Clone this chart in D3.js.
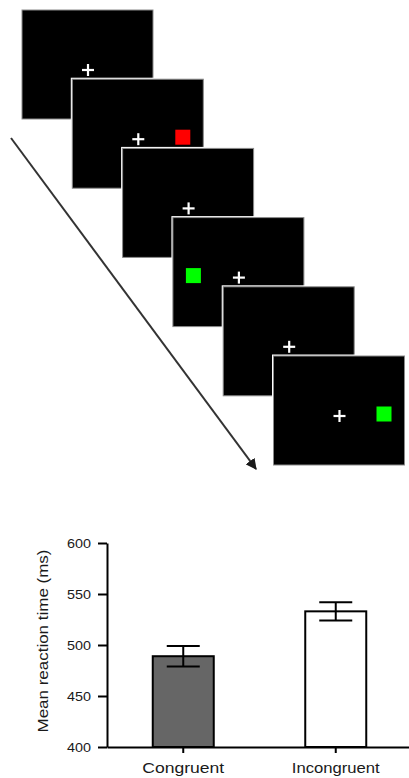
<!DOCTYPE html>
<html>
<head>
<meta charset="utf-8">
<script src="https://cdn.jsdelivr.net/npm/d3@7"></script>
<style>
html,body{margin:0;padding:0;background:#fff;}
svg{display:block;}
text{font-family:"Liberation Sans",Arial,Helvetica,sans-serif;fill:#1a1a1a;}
</style>
</head>
<body>
<svg id="chart" width="409" height="778"></svg>
<script>
// ---- data ----
const screenIndex = [0, 1, 2, 3, 4, 5];
const stimulusColor = [null, "red", null, "green", null, "green"];
const stimulusSide = [null, "right", null, "left", null, "right"];
const colorMap = {red: "#ff0000", green: "#00ff00"};

const conditions = ["Congruent", "Incongruent"];
const meanRT = [489, 533];
const semRT = [10, 9];
const yTicks = [400, 450, 500, 550, 600];
const yLabel = "Mean reaction time (ms)";

const svg = d3.select("#chart");

// ---- stimulus sequence ----
const sx = d3.scaleLinear().domain([0, 5]).range([22, 273.5]);
const sy = d3.scaleLinear().domain([0, 5]).range([10, 356]);
const SW = 131, SH = 109;
const sideX = d3.scaleOrdinal().domain(["left", "right"]).range([20.5, 110.5]);

// arrow
svg.append("defs").append("marker")
  .attr("id", "ah").attr("viewBox", "0 0 10 10")
  .attr("refX", 9).attr("refY", 5)
  .attr("markerWidth", 5.5).attr("markerHeight", 5.5)
  .attr("markerUnits", "strokeWidth")
  .attr("orient", "auto")
  .append("path").attr("d", "M0,0 L10,5 L0,10 Z").attr("fill", "#1a1a1a");

svg.append("line")
  .attr("x1", 11).attr("y1", 138).attr("x2", 256).attr("y2", 469)
  .attr("stroke", "#333").attr("stroke-width", 2)
  .attr("marker-end", "url(#ah)");

const scr = svg.append("g").selectAll("g").data(screenIndex).join("g")
  .attr("transform", d => `translate(${sx(d)},${sy(d)})`);

scr.append("rect")
  .attr("x", -1.5).attr("y", -1.5).attr("width", SW + 3).attr("height", SH + 3)
  .attr("fill", "#fff");
scr.append("rect")
  .attr("x", 0).attr("y", 0).attr("width", SW).attr("height", SH)
  .attr("fill", "#000").attr("stroke", "#8a8a8a").attr("stroke-width", 1);

// fixation cross
const cx = 66, cy = 60, arm = 6;
scr.append("line").attr("x1", cx - arm).attr("x2", cx + arm).attr("y1", cy).attr("y2", cy)
  .attr("stroke", "#fff").attr("stroke-width", 2.2);
scr.append("line").attr("x1", cx).attr("x2", cx).attr("y1", cy - arm).attr("y2", cy + arm)
  .attr("stroke", "#fff").attr("stroke-width", 2.2);

// coloured squares
const SQ = 15;
scr.filter(d => stimulusColor[d] !== null).append("rect")
  .attr("x", d => sideX(stimulusSide[d]) - SQ / 2)
  .attr("y", cy - SQ / 2 - 2)
  .attr("width", SQ).attr("height", SQ)
  .attr("fill", d => colorMap[stimulusColor[d]]);

// ---- bar chart ----
const y = d3.scaleLinear().domain([400, 600]).range([747, 543]);
const x = d3.scaleBand().domain(conditions).range([107, 412])
  .paddingInner(0.6).paddingOuter(0.3);

const g = svg.append("g");

// bars
g.selectAll("rect.bar").data(conditions).join("rect")
  .attr("class", "bar")
  .attr("x", d => x(d))
  .attr("y", (d, i) => y(meanRT[i]))
  .attr("width", x.bandwidth())
  .attr("height", (d, i) => y(400) - y(meanRT[i]))
  .attr("fill", (d, i) => i === 0 ? "#666666" : "#ffffff")
  .attr("stroke", "#000").attr("stroke-width", 2);

// error bars
const capW = 33;
const eb = g.selectAll("g.eb").data(conditions).join("g").attr("class", "eb");
eb.append("line")
  .attr("x1", d => x(d) + x.bandwidth() / 2).attr("x2", d => x(d) + x.bandwidth() / 2)
  .attr("y1", (d, i) => y(meanRT[i] + semRT[i])).attr("y2", (d, i) => y(meanRT[i] - semRT[i]))
  .attr("stroke", "#000").attr("stroke-width", 2);
eb.append("line")
  .attr("x1", d => x(d) + x.bandwidth() / 2 - capW / 2).attr("x2", d => x(d) + x.bandwidth() / 2 + capW / 2)
  .attr("y1", (d, i) => y(meanRT[i] + semRT[i])).attr("y2", (d, i) => y(meanRT[i] + semRT[i]))
  .attr("stroke", "#000").attr("stroke-width", 2);
eb.append("line")
  .attr("x1", d => x(d) + x.bandwidth() / 2 - capW / 2).attr("x2", d => x(d) + x.bandwidth() / 2 + capW / 2)
  .attr("y1", (d, i) => y(meanRT[i] - semRT[i])).attr("y2", (d, i) => y(meanRT[i] - semRT[i]))
  .attr("stroke", "#000").attr("stroke-width", 2);

// y axis
const ya = g.append("g").attr("transform", "translate(107,0)")
  .call(d3.axisLeft(y).tickValues(yTicks).tickSize(9).tickPadding(7).tickSizeOuter(0));
ya.select(".domain").attr("stroke", "#000").attr("stroke-width", 2);
ya.selectAll(".tick line").attr("stroke", "#000").attr("stroke-width", 2);
ya.selectAll(".tick text").attr("font-size", 13).attr("fill", "#1a1a1a")
  .attr("font-family", "Liberation Sans, Arial, sans-serif")
  .attr("textLength", 24).attr("lengthAdjust", "spacingAndGlyphs");

// x axis
const xa = g.append("g").attr("transform", "translate(0,747)")
  .call(d3.axisBottom(x).tickSize(6).tickPadding(9).tickSizeOuter(0));
xa.select(".domain").attr("stroke", "#000").attr("stroke-width", 2);
xa.selectAll(".tick line").attr("stroke", "#000").attr("stroke-width", 2);
xa.selectAll(".tick text").attr("font-size", 15).attr("fill", "#1a1a1a")
  .attr("font-family", "Liberation Sans, Arial, sans-serif")
  .attr("textLength", (d, i) => i === 0 ? 82 : 88)
  .attr("lengthAdjust", "spacingAndGlyphs");

// y label
g.append("text")
  .attr("transform", "translate(48,641) rotate(-90)")
  .attr("text-anchor", "middle")
  .attr("font-size", 14)
  .attr("textLength", 183).attr("lengthAdjust", "spacingAndGlyphs")
  .text(yLabel);
</script>
</body>
</html>
